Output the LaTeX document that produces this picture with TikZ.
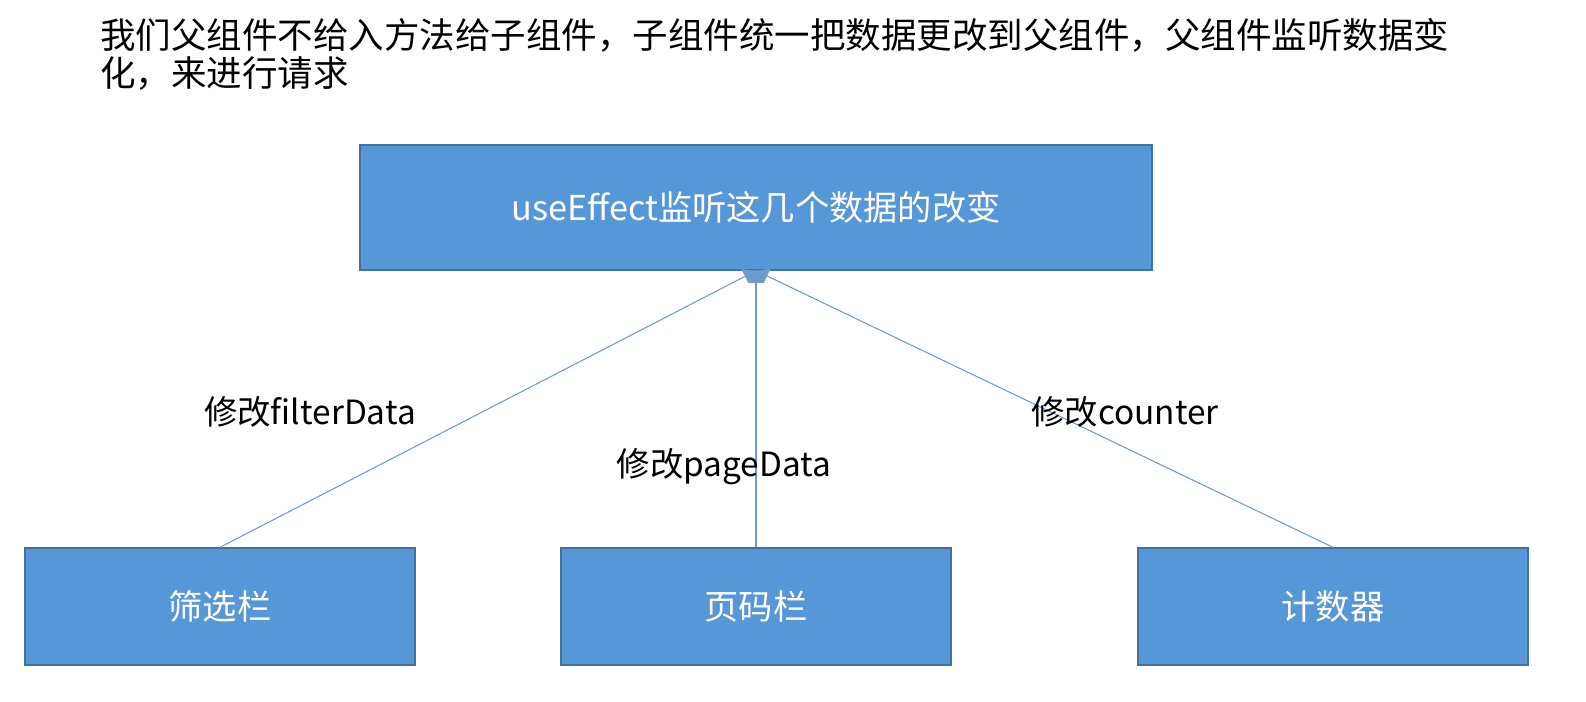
\documentclass[tikz,border=0pt]{standalone}
\usepackage{fontspec}
\setmainfont{Noto Sans CJK SC}
\usetikzlibrary{arrows.meta}
\definecolor{boxblue}{RGB}{86,151,216}
\definecolor{boxedge}{RGB}{65,113,156}
\definecolor{linkblue}{RGB}{110,155,205}
\begin{document}
\begin{tikzpicture}[x=0.02cm, y=-0.02cm,
    block/.style={draw=boxedge, line width=0.8pt, fill=boxblue, text=white,
      font=\fontsize{19.5}{22}\selectfont, inner sep=0pt},
    child/.style={block, minimum width=7.8cm, minimum height=2.34cm},
    link/.style={draw=linkblue, line width=0.6pt,
      -{Triangle[length=7pt, width=9pt]}},
    tag/.style={font=\fontsize{19}{22}\selectfont}]
        \useasboundingbox (0,0) rectangle (1586,702);
        % Title
        \node[anchor=north west, align=left, inner sep=0pt,
          font=\fontsize{20.2}{21.6}\selectfont] (title) at (100,18)
          {我们父组件不给入方法给子组件，子组件统一把数据更改到父组件，父组件监听数据变\\化，来进行请求};
        % Parent
        \node[block, minimum width=15.84cm, minimum height=2.5cm] (parent) at (756,207.5)
          {useEffect监听这几个数据的改变};
        % Children
        \node[child] (filter) at (220,606.5) {筛选栏};
        \node[child] (page) at (756,606.5) {页码栏};
        \node[child] (counter) at (1333,606.5) {计数器};
        % Links
        \draw[link] (filter.north) -- (parent.south);
        \draw[link] (page.north) -- (parent.south);
        \draw[link] (counter.north) -- (parent.south);
        % Labels
        \node[tag] (filterlbl) at (310,412) {修改filterData};
        \node[tag] (pagelbl) at (724,467) {修改pageData};
        \node[tag] (counterlbl) at (1125,412) {修改counter};
\end{tikzpicture}
\end{document}
